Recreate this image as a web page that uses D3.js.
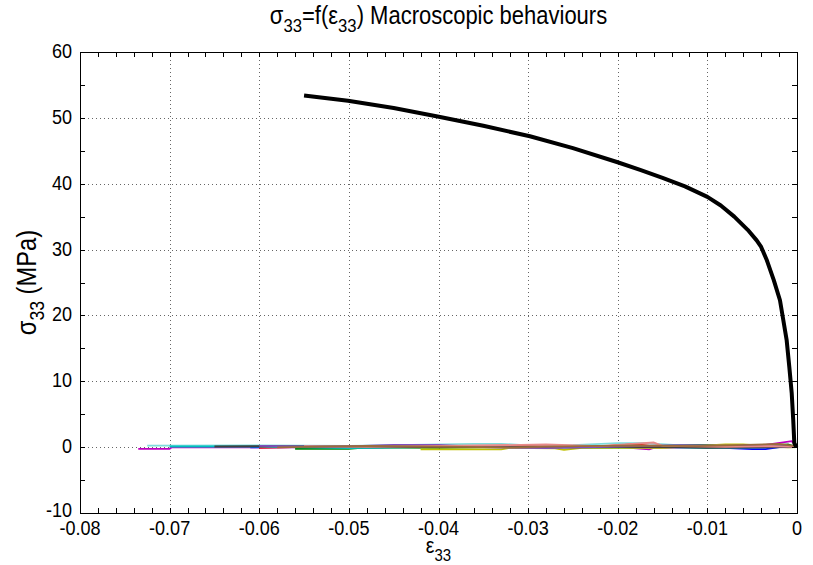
<!DOCTYPE html>
<html>
<head>
<meta charset="utf-8">
<script src="https://cdn.jsdelivr.net/npm/d3@7"></script>
<style>
  body { margin: 0; background: #fff; }
  svg { display: block; font-family: "Liberation Sans", Arial, Helvetica, sans-serif; }
</style>
</head>
<body>
<div id="chart"></div>
<script>
// Main macroscopic curve (strain, stress in MPa)
const mainStrain = [-0.0550, -0.0501, -0.0450, -0.0401, -0.0350, -0.0298, -0.0250, -0.0201, -0.0175, -0.0150,
                    -0.0125, -0.0100, -0.0085, -0.0070, -0.0055, -0.0045, -0.0040, -0.0034, -0.0026, -0.0019,
                    -0.00153, -0.00115, -0.00086, -0.00059, -0.00042, -0.00030, -0.00005];
const mainStress = [53.4, 52.6, 51.5, 50.2, 48.8, 47.2, 45.4, 43.3, 42.1, 40.9,
                    39.6, 38.0, 36.7, 35.0, 33.0, 31.4, 30.4, 28.5, 25.4, 22.3,
                    19.3, 16.2, 12.2, 8.2, 4.1, 0.6, 0.0];

// Thin near-zero curves (strain, stress)
const curveA = [[-0.0735, -0.25], [-0.0700, -0.25], [-0.0698, -0.05], [-0.0550, -0.05], [-0.0450, 0.0], [-0.0200, 0.05], [-0.0165, -0.35], [-0.0160, -0.1], [-0.0050, 0.05], [-0.0006, 0.9], [0, 0.2]];
const curveB = [[-0.0725, 0.22], [-0.0600, 0.25], [-0.0500, 0.2], [-0.0360, 0.5], [-0.0330, 0.5], [-0.0300, 0.25], [-0.0250, 0.3], [-0.0200, 0.6], [-0.0170, 0.6], [-0.0120, 0.2], [-0.0020, 0.3], [0, 0.1]];
const curveC = [[-0.0610, -0.05], [-0.0560, 0.0], [-0.0500, -0.1], [-0.0420, 0.1], [-0.0380, 0.0], [-0.0300, -0.05], [-0.0200, 0.05], [-0.0100, 0.0], [-0.0050, -0.3], [-0.0035, -0.3], [-0.0010, 0.2], [0, 0.0]];
const curveD = [[-0.0560, -0.25], [-0.0500, -0.25], [-0.0480, -0.05], [-0.0400, -0.1], [-0.0300, 0.1], [-0.0200, 0.0], [-0.0120, 0.3], [-0.0090, 0.35], [-0.0050, 0.1], [-0.0010, 0.4], [0, 0.0]];
const curveE = [[-0.0600, -0.1], [-0.0550, 0.05], [-0.0400, 0.0], [-0.0320, 0.15], [-0.0250, 0.05], [-0.0210, 0.2], [-0.0180, 0.45], [-0.0160, 0.1], [-0.0100, -0.05], [-0.0030, 0.1], [0, 0.0]];
const curveF = [[-0.0700, 0.1], [-0.0600, 0.1], [-0.0500, -0.15], [-0.0400, 0.05], [-0.0300, 0.0], [-0.0200, -0.1], [-0.0150, 0.0], [-0.0100, -0.15], [-0.0040, -0.05], [0, 0.05]];
const curveG = [[-0.0420, -0.35], [-0.0330, -0.35], [-0.0320, -0.1], [-0.0270, -0.2], [-0.0260, -0.4], [-0.0240, -0.1], [-0.0150, -0.1], [-0.0080, 0.4], [-0.0060, 0.4], [-0.0010, -0.05], [0, 0.0]];
const curveH = [[-0.0650, 0.1], [-0.0590, 0.15], [-0.0500, 0.1], [-0.0430, 0.0], [-0.0350, 0.05], [-0.0250, -0.05], [-0.0150, 0.05], [-0.0100, -0.1], [0, 0.0]];
const curveI = [[-0.0600, 0.2], [-0.0520, 0.05], [-0.0450, 0.35], [-0.0400, 0.35], [-0.0350, 0.0], [-0.0280, -0.15], [-0.0200, 0.1], [-0.0130, 0.3], [-0.0060, 0.2], [0, 0.1]];
const curveJ = [[-0.0550, 0.15], [-0.0480, 0.05], [-0.0360, 0.25], [-0.0280, 0.4], [-0.0220, 0.15], [-0.0160, 0.7], [-0.0150, 0.2], [-0.0080, 0.05], [-0.0030, 0.15], [0, 0.05]];
const curveK = [[-0.0580, -0.05], [-0.0480, 0.2], [-0.0420, 0.1], [-0.0320, -0.05], [-0.0240, 0.15], [-0.0180, 0.25], [-0.0110, 0.15], [-0.0020, 0.5], [0, 0.1]];
const thinCurves = [curveA, curveB, curveC, curveD, curveE, curveF, curveG, curveH, curveI, curveJ, curveK];
const thinColors = ["#bf00bf", "#7fdcdc", "#0000ff", "#007f00", "#ff0000", "#00bfbf", "#bfbf00", "#404040", "#7f4fbf", "#e88a8a", "#9c6b3c"];

// Ticks
const xTicks = [-0.08, -0.07, -0.06, -0.05, -0.04, -0.03, -0.02, -0.01, 0];
const xTickLabels = ["-0.08", "-0.07", "-0.06", "-0.05", "-0.04", "-0.03", "-0.02", "-0.01", "0"];
const yTicks = [-10, 0, 10, 20, 30, 40, 50, 60];

const width = 813, height = 565;
const margin = {left: 80, right: 16, top: 52, bottom: 52};
const narrow = 0.88; // horizontal squeeze, Helvetica-narrow look

const svg = d3.select("#chart").append("svg")
    .attr("width", width)
    .attr("height", height);

const x = d3.scaleLinear().domain([-0.08, 0]).range([margin.left, width - margin.right]);
const y = d3.scaleLinear().domain([-10, 60]).range([height - margin.bottom, margin.top]);

const x0 = x.range()[0], x1 = x.range()[1];
const y0 = y.range()[0], y1 = y.range()[1];

// Grid (dotted)
const grid = svg.append("g").attr("stroke", "#666").attr("stroke-width", 1).attr("stroke-dasharray", "1,3");
grid.selectAll("line.gx").data(xTicks.slice(1, -1)).join("line")
    .attr("x1", d => Math.round(x(d)) + 0.5).attr("x2", d => Math.round(x(d)) + 0.5)
    .attr("y1", y1).attr("y2", y0);
grid.selectAll("line.gy").data(yTicks.slice(1, -1)).join("line")
    .attr("y1", d => Math.round(y(d)) + 0.5).attr("y2", d => Math.round(y(d)) + 0.5)
    .attr("x1", x0).attr("x2", x1);

// Thin curves
const line = d3.line().x(d => x(d[0])).y(d => y(d[1]));
svg.append("g").selectAll("path").data(thinCurves).join("path")
    .attr("d", line)
    .attr("fill", "none")
    .attr("stroke", (d, i) => thinColors[i])
    .attr("stroke-width", 1.8);

// Main curve
const mainData = mainStrain.map((s, i) => [s, mainStress[i]]);
svg.append("path")
    .datum(mainData)
    .attr("d", line)
    .attr("fill", "none")
    .attr("stroke", "#000")
    .attr("stroke-width", 4)
    .attr("stroke-linejoin", "round");

// Axes box with inward ticks (top/right mirrored)
const tickLen = 5;
const xMinor = d3.range(-0.08, 0.0001, 0.002);
const yMinor = d3.range(-10, 60.01, 5);

const axisG = svg.append("g").attr("stroke", "#000").attr("stroke-width", 1);
axisG.append("rect")
    .attr("x", x0 + 0.5).attr("y", y1 + 0.5)
    .attr("width", x1 - x0).attr("height", y0 - y1)
    .attr("fill", "none");

axisG.selectAll("line.xb").data(xMinor).join("line")
    .attr("x1", d => Math.round(x(d)) + 0.5).attr("x2", d => Math.round(x(d)) + 0.5)
    .attr("y1", y0).attr("y2", y0 - tickLen);
axisG.selectAll("line.xt").data(xMinor).join("line")
    .attr("x1", d => Math.round(x(d)) + 0.5).attr("x2", d => Math.round(x(d)) + 0.5)
    .attr("y1", y1).attr("y2", y1 + tickLen);
axisG.selectAll("line.yl").data(yMinor).join("line")
    .attr("y1", d => Math.round(y(d)) + 0.5).attr("y2", d => Math.round(y(d)) + 0.5)
    .attr("x1", x0).attr("x2", x0 + tickLen);
axisG.selectAll("line.yr").data(yMinor).join("line")
    .attr("y1", d => Math.round(y(d)) + 0.5).attr("y2", d => Math.round(y(d)) + 0.5)
    .attr("x1", x1).attr("x2", x1 - tickLen);

// Tick labels
const fs = 20.5;
svg.append("g").selectAll("text").data(xTicks).join("text")
    .attr("transform", d => `translate(${x(d)},${y0 + 22}) scale(${narrow},1)`)
    .attr("text-anchor", "middle")
    .attr("font-size", fs)
    .text((d, i) => xTickLabels[i]);

svg.append("g").selectAll("text").data(yTicks).join("text")
    .attr("transform", d => `translate(${x0 - 8},${y(d) + (d === -10 ? 4 : 6)}) scale(${narrow},1)`)
    .attr("text-anchor", "end")
    .attr("font-size", fs)
    .text(d => d);

// Title
const title = svg.append("text")
    .attr("transform", `translate(${(x0 + x1) / 2},24) scale(${narrow},1)`)
    .attr("text-anchor", "middle")
    .attr("font-size", 25);
title.append("tspan").text("σ");
title.append("tspan").attr("dy", 8).attr("font-size", 19).text("33");
title.append("tspan").attr("dy", -8).text("=f(ε");
title.append("tspan").attr("dy", 8).attr("font-size", 19).text("33");
title.append("tspan").attr("dy", -8).text(") Macroscopic behaviours");

// X label
const xl = svg.append("text")
    .attr("transform", `translate(${(x0 + x1) / 2},${y0 + 40}) scale(${narrow},1)`)
    .attr("text-anchor", "middle")
    .attr("font-size", 22);
xl.append("tspan").text("ε");
xl.append("tspan").attr("dy", 8).attr("font-size", 17).text("33");

// Y label
const yl = svg.append("text")
    .attr("transform", `translate(36,${(y0 + y1) / 2}) rotate(-90) scale(${narrow},1)`)
    .attr("text-anchor", "middle")
    .attr("font-size", 27);
yl.append("tspan").text("σ");
yl.append("tspan").attr("dy", 8).attr("font-size", 20).text("33");
yl.append("tspan").attr("dy", -8).text(" (MPa)");
</script>
</body>
</html>
